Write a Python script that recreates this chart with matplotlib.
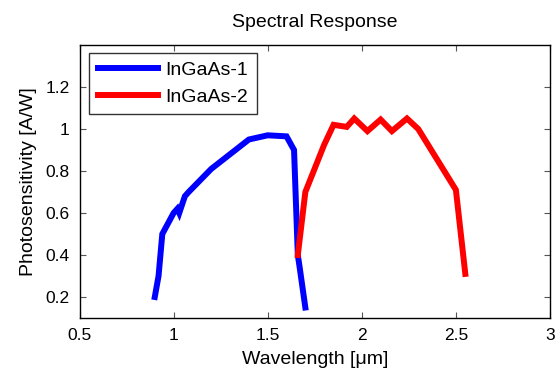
import matplotlib
matplotlib.use("Agg")
import matplotlib.pyplot as plt

plt.rcParams['font.family'] = ['Liberation Sans', 'DejaVu Sans']

wl1 = [0.90, 0.92, 0.94, 1.00, 1.02, 1.03, 1.06, 1.08, 1.20, 1.30, 1.40, 1.50, 1.60, 1.64, 1.66, 1.67, 1.70]
resp1 = [0.20, 0.30, 0.50, 0.60, 0.62, 0.60, 0.68, 0.70, 0.81, 0.88, 0.95, 0.97, 0.965, 0.90, 0.40, 0.34, 0.15]
wl2 = [1.66, 1.70, 1.80, 1.85, 1.92, 1.96, 2.03, 2.10, 2.16, 2.24, 2.30, 2.50, 2.55]
resp2 = [0.40, 0.70, 0.925, 1.02, 1.01, 1.05, 0.99, 1.045, 0.99, 1.05, 1.00, 0.71, 0.31]

xticks = [0.5, 1, 1.5, 2, 2.5, 3]
xticklabels = ['0.5', '1', '1.5', '2', '2.5', '3']
yticks = [0.2, 0.4, 0.6, 0.8, 1.0, 1.2]
yticklabels = ['0.2', '0.4', '0.6', '0.8', '1', '1.2']

fig = plt.figure(figsize=(5.55, 3.71), dpi=100)
ax = fig.add_axes([79.5/555, 1-318/371, (550-79.5)/555, (318-45)/371])

ax.plot(wl1, resp1, color='#0000ff', lw=4.3, label='InGaAs-1', solid_joinstyle='miter')
ax.plot(wl2, resp2, color='#ff0000', lw=4.3, label='InGaAs-2', solid_joinstyle='miter')

ax.set_xlim(0.5, 3)
ax.set_ylim(0.1, 1.4)
ax.set_xticks(xticks)
ax.set_xticklabels(xticklabels)
ax.set_yticks(yticks)
ax.set_yticklabels(yticklabels)
ax.tick_params(direction='in', top=True, right=True, length=4, width=0.8,
               labelsize=12.5, color='#555555', pad=7)
for s in ax.spines.values():
    s.set_linewidth(1.0)
    s.set_color('black')

ax.set_title('Spectral Response', fontsize=14, pad=13)
ax.set_xlabel('Wavelength [μm]', fontsize=14, labelpad=6)
ax.set_ylabel('Photosensitivity [A/W]', fontsize=14, labelpad=6)

leg = ax.legend(loc='upper left', bbox_to_anchor=(0.020, 0.971), borderaxespad=0,
                fontsize=14, frameon=True, fancybox=False, edgecolor='black',
                handlelength=3.1, handletextpad=0.4, borderpad=0.45, labelspacing=0.45)
leg.get_frame().set_linewidth(1.0)

fig.savefig('out.png', dpi=100)
